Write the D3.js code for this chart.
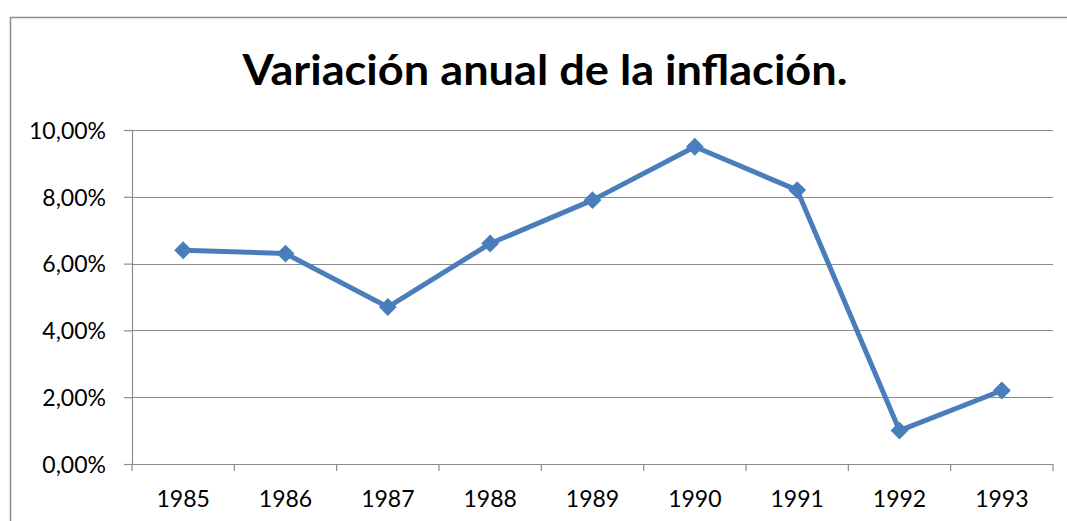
<!DOCTYPE html>
<html>
<head>
<meta charset="utf-8">
<script src="https://cdn.jsdelivr.net/npm/d3@7"></script>
<style>
  body { margin: 0; background: #fff; }
  text { font-family: Lato, "Open Sans", "Liberation Sans", sans-serif; fill: #000; }
</style>
</head>
<body>
<svg id="chart"></svg>
<script>
// Chart data
const years = ["1985", "1986", "1987", "1988", "1989", "1990", "1991", "1992", "1993"];
const inflation = [0.064, 0.063, 0.047, 0.066, 0.079, 0.095, 0.082, 0.010, 0.022];
const yTicks = [0, 0.02, 0.04, 0.06, 0.08, 0.10];
const titleText = "Variación anual de la inflación.";

const width = 1067, height = 521;
const margin = { top: 130, right: 14, bottom: 57, left: 132 };
const innerW = width - margin.left - margin.right;
const innerH = height - margin.top - margin.bottom;

const svg = d3.select("#chart").attr("width", width).attr("height", height);

// outer chart border (only top and left are in frame)
svg.append("rect")
    .attr("x", 10.5).attr("y", 17.5)
    .attr("width", 1100).attr("height", 600)
    .attr("fill", "none")
    .attr("stroke", "#8c8c8c")
    .attr("stroke-width", 1.5);

svg.append("text")
    .attr("x", 545).attr("y", 85)
    .attr("text-anchor", "middle")
    .attr("font-size", 42)
    .attr("font-weight", "bold")
    .attr("textLength", 605)
    .attr("lengthAdjust", "spacingAndGlyphs")
    .text(titleText);

const chart = svg.append("g").attr("transform", `translate(${margin.left},${margin.top})`);

const xScale = d3.scaleBand().domain(years).range([0, innerW]);
const yScale = d3.scaleLinear().domain([0, 0.10]).range([innerH, 0]);

const fmt = d => d3.format(".2f")(d * 100).replace(".", ",") + "%";

// gridlines
chart.append("g")
    .selectAll("line")
    .data(yTicks.filter(d => d > 0))
    .join("line")
    .attr("x1", 0).attr("x2", innerW)
    .attr("y1", d => Math.round(yScale(d)) + 0.5)
    .attr("y2", d => Math.round(yScale(d)) + 0.5)
    .attr("stroke", "#8c8c8c")
    .attr("stroke-width", 1.2);

// y axis
const yAxis = d3.axisLeft(yScale).tickValues(yTicks).tickFormat(fmt).tickSize(8).tickPadding(18).tickSizeOuter(0);
const yAxisG = chart.append("g").call(yAxis).attr("font-family", null).attr("font-size", null);
yAxisG.selectAll("line, path").attr("stroke", "#8c8c8c").attr("stroke-width", 1.2);
yAxisG.selectAll("text").attr("font-size", 23).attr("fill", "#000").attr("dy", "0.36em");

// x axis: ticks at band boundaries
const xAxisG = chart.append("g").attr("transform", `translate(0,${innerH})`);
xAxisG.append("line")
    .attr("x1", 0).attr("x2", innerW)
    .attr("y1", 0.5).attr("y2", 0.5)
    .attr("stroke", "#8c8c8c").attr("stroke-width", 1.2);
xAxisG.selectAll(".tick")
    .data(d3.range(years.length + 1))
    .join("line")
    .attr("class", "tick")
    .attr("x1", i => i * xScale.step()).attr("x2", i => i * xScale.step())
    .attr("y1", 0).attr("y2", 7)
    .attr("stroke", "#8c8c8c").attr("stroke-width", 1.2);
xAxisG.selectAll(".label")
    .data(years)
    .join("text")
    .attr("class", "label")
    .attr("x", d => xScale(d) + xScale.bandwidth() / 2)
    .attr("y", 43)
    .attr("text-anchor", "middle")
    .attr("font-size", 23)
    .text(d => d);

// line
const points = years.map((y, i) => ({ year: y, value: inflation[i] }));
const line = d3.line()
    .x(d => xScale(d.year) + xScale.bandwidth() / 2)
    .y(d => yScale(d.value));

chart.append("path")
    .datum(points)
    .attr("d", line)
    .attr("fill", "none")
    .attr("stroke", "#4a7ebb")
    .attr("stroke-width", 5)
    .attr("stroke-linejoin", "round");

// diamond markers
chart.selectAll(".marker")
    .data(points)
    .join("path")
    .attr("class", "marker")
    .attr("d", d3.symbol().type(d3.symbolSquare).size(160))
    .attr("transform", d => `translate(${xScale(d.year) + xScale.bandwidth() / 2},${yScale(d.value)}) rotate(45)`)
    .attr("fill", "#4a7ebb");
</script>
</body>
</html>
